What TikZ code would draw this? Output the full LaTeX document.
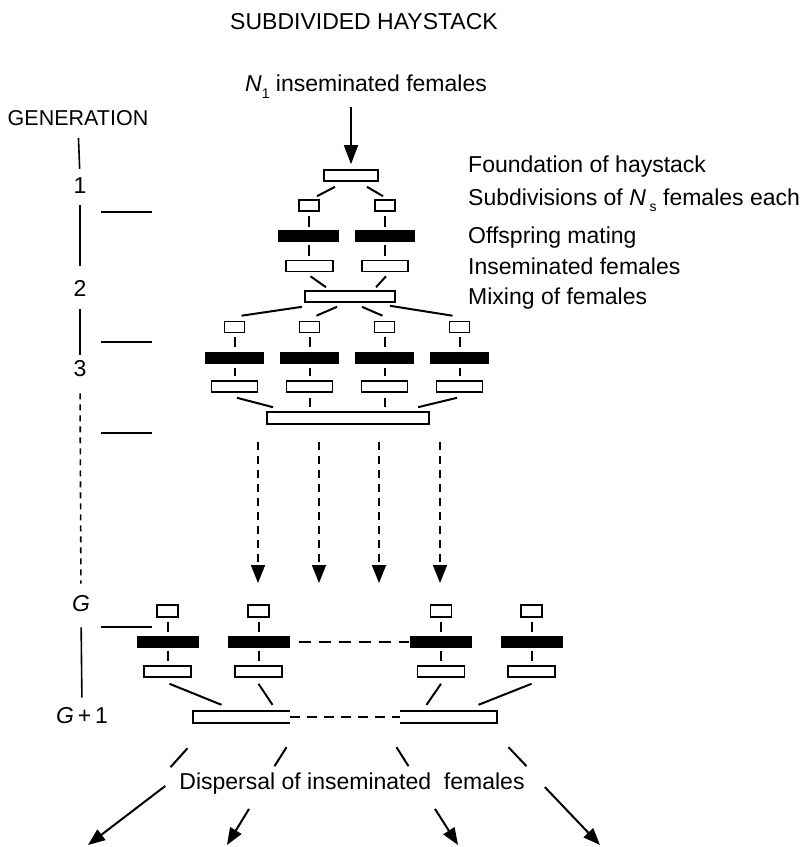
\documentclass[tikz,border=0pt]{standalone}
\usepackage{fontspec}
\setmainfont{Liberation Sans}
\usetikzlibrary{arrows.meta, calc}

\newcommand{\lowsub}[1]{\raisebox{-0.55ex}{\fontsize{14}{14}\selectfont #1}}

\tikzset{
  txt/.style={inner sep=0pt, font=\fontsize{23}{27}\selectfont},
  hollow/.style={draw, line width=1.6pt, fill=white, inner sep=0pt, minimum height=11pt},
  matebox/.style={fill=black, inner sep=0pt, minimum height=12pt},
  blank/.style={inner sep=0pt, minimum height=12pt},
  boxln/.style={line width=1.6pt},
  link/.style={line width=2pt},
  axisln/.style={line width=1.6pt},
  tickln/.style={line width=1.1pt},
  bigarrow/.style={line width=1.6pt, -{Triangle[length=19pt,width=14pt]}},
  dasharrow/.style={line width=1.8pt, dash pattern=on 8pt off 6pt, -{Triangle[length=18pt,width=14pt]}},
  outarrow/.style={line width=2pt, -{Triangle[length=17pt,width=13pt]}}
}

\begin{document}
\begin{tikzpicture}[x=1pt, y=-1pt]
\useasboundingbox (0,0) rectangle (807,847);

\node[txt] (title) at (364,22) {SUBDIVIDED HAYSTACK};
\node[txt] (nin) at (366,87) {\textit{N}\lowsub{1} inseminated females};

%---labels on the right---
\node[txt, anchor=base west] (lfd) at (468,172) {Foundation of haystack};
\node[txt, anchor=base west] (lsub) at (468,205) {Subdivisions of \textit{N}\,\lowsub{s} females each};
\node[txt, anchor=base west] (lmate) at (468,243) {Offspring mating};
\node[txt, anchor=base west] (lins) at (468,274) {Inseminated females};
\node[txt, anchor=base west] (lmix) at (468,304) {Mixing of females};

%---generation axis---
\node[txt, font=\fontsize{21.5}{25}\selectfont] (gen) at (78,118) {GENERATION};
\node[txt] (g1) at (80,186) {1};
\node[txt] (g2) at (80,288) {2};
\node[txt] (g3) at (80,369) {3};
\node[txt] (gG) at (81,604) {\textit{G}};
\node[txt] (gG1) at (82,716) {\textit{G}\,+\,1};

\draw[axisln, shorten <=12pt, shorten >=9pt] (gen.south) -- (g1.north);
\draw[axisln, shorten <=11pt, shorten >=14pt] (g1.south) -- (g2.north);
\draw[axisln, shorten <=13pt, shorten >=6pt] (g2.south) -- (g3.north);
\draw[axisln, dash pattern=on 6pt off 5pt, shorten <=16pt, shorten >=12pt] (g3.south) -- (gG.north);
\draw[axisln, shorten <=15pt, shorten >=10pt] (gG.south) -- (gG1.north);

\draw[tickln] (101,212) -- (152,212);
\draw[tickln] (101,342) -- (152,342);
\draw[tickln] (101,433) -- (152,433);
\draw[tickln] (101,627) -- (152,627);

%---generation 1---
\node[hollow, minimum width=54pt] (fd) at (351,175.5) {};
\draw[bigarrow, shorten >=5pt] (fd.north |- nin.south) ++(0,8) -- (fd.north);

\node[hollow, minimum width=20pt] (s1) at (309,205.5) {};
\node[hollow, minimum width=20pt] (s2) at (385,205.5) {};
\node[matebox, minimum width=61pt] (m1) at (308.5,235.5) {};
\node[matebox, minimum width=60pt] (m2) at (385,235.5) {};
\node[hollow, minimum width=47pt] (i1) at (309.5,266) {};
\node[hollow, minimum width=46pt] (i2) at (385,266) {};
\node[hollow, minimum width=90pt] (mx) at (350,296.5) {};

\draw[link] ($(fd.south)+(-16,5)$) -- ($(s1.north)+(8,-3)$);
\draw[link] ($(fd.south)+(16,5)$) -- ($(s2.north)+(-2,-3)$);
\foreach \k in {1,2} {
  \draw[link, shorten <=4pt, shorten >=2pt] (s\k.south) -- (s\k.south |- m\k.north);
  \draw[link, shorten <=3pt, shorten >=4pt] (m\k.south) -- (m\k.south |- i\k.north);
}
\draw[link] ($(i1.south)+(1,4)$) -- ($(mx.north)+(-24,-3)$);
\draw[link] ($(i2.south)+(1,4)$) -- ($(mx.north)+(26,-3)$);

%---generation 2---
\foreach \x [count=\k] in {234.5,309.5,384.5,459.5} {
  \node[hollow, minimum width=20pt] (t\k) at (\x,327) {};
  \node[matebox, minimum width=59pt] (n\k) at (\x,357.5) {};
  \node[hollow, minimum width=46pt] (j\k) at (\x,386.5) {};
  \draw[link, shorten <=4pt, shorten >=4pt] (t\k.south) -- (n\k.north);
  \draw[link, shorten <=4pt, shorten >=4pt] (n\k.south) -- (j\k.north);
}
\node[hollow, minimum width=162pt, minimum height=12pt] (bb) at (348,418) {};

\draw[link] ($(mx.south)+(-48,4)$) -- ($(t1.north)+(7,-5)$);
\draw[link] ($(mx.south)+(-13,4)$) -- ($(t2.north)+(7,-5)$);
\draw[link] ($(mx.south)+(12,4)$) -- ($(t3.north)+(-2,-5)$);
\draw[link] ($(mx.south)+(40,3)$) -- ($(t4.north)+(-7,-5)$);

\draw[link] ($(j1.south)+(2.5,5)$) -- ($(bb.north)+(-75,-4)$);
\draw[link, shorten <=5pt, shorten >=4pt] (j2.south) -- (j2.south |- bb.north);
\draw[link, shorten <=5pt, shorten >=4pt] (j3.south) -- (j3.south |- bb.north);
\draw[link] ($(j4.south)+(-2.5,5)$) -- ($(bb.north)+(70,-4)$);

%---many generations---
\foreach \x [count=\k] in {258,319,379,440} {
  \coordinate (up\k) at (\x,442);
  \coordinate (dn\k) at (\x,583);
  \draw[dasharrow] (up\k) -- (dn\k);
}

%---generation G---
\foreach \x [count=\k] in {167.5,258.5,441,531.5} {
  \node[hollow, minimum width=21pt, minimum height=12pt] (u\k) at (\x,611) {};
  \node[matebox, minimum width=62pt] (v\k) at (\x,641.5) {};
  \node[hollow, minimum width=47pt] (w\k) at (\x,671.5) {};
  \draw[link, shorten <=4pt, shorten >=3pt] (u\k.south) -- (v\k.north);
  \draw[link, shorten <=3pt, shorten >=4pt] (v\k.south) -- (w\k.north);
}
\draw[link, dash pattern=on 12pt off 8pt, shorten <=9pt, shorten >=1pt] (v2.east) -- (v3.west);

%---generation G+1---
\node[blank, minimum width=97pt] (gl) at (241.5,717) {};
\node[blank, minimum width=97pt] (gr) at (448.5,717) {};
\draw[boxln] (gl.north east) -- (gl.north west) -- (gl.south west) -- (gl.south east);
\draw[boxln] (gr.north west) -- (gr.north east) -- (gr.south east) -- (gr.south west);
\draw[link, dash pattern=on 10pt off 7pt] (gl.east) -- (gr.west);

\draw[link] ($(w1.south)+(2,6)$) -- ($(gl.north)+(-20,-6)$);
\draw[link] ($(w2.south)+(0,6)$) -- ($(gl.north)+(31,-6)$);
\draw[link] ($(w3.south)+(0,6)$) -- ($(gr.north)+(-22,-6)$);
\draw[link] ($(w4.south)+(0,6)$) -- ($(gr.north)+(30,-6)$);

%---dispersal---
\node[txt] (disp) at (352,784) {Dispersal of inseminated~ females};

\draw[link] ($(gl.south)+(-54,25)$) -- ++(-17,19);
\draw[link] ($(gl.south)+(45,24)$) -- ++(-12,19);
\draw[link] ($(gr.south)+(-52,24)$) -- ++(12,19);
\draw[link] ($(gr.south)+(60,24)$) -- ++(18,19);

\draw[outarrow] ($(disp.west)+(-14,2)$) -- (88,845);
\draw[outarrow] ($(disp.south)+(-103,14)$) -- (227,845);
\draw[outarrow] ($(disp.south)+(83,14)$) -- (458,845);
\draw[outarrow] ($(disp.east)+(20,3)$) -- (600,845);

\end{tikzpicture}
\end{document}
